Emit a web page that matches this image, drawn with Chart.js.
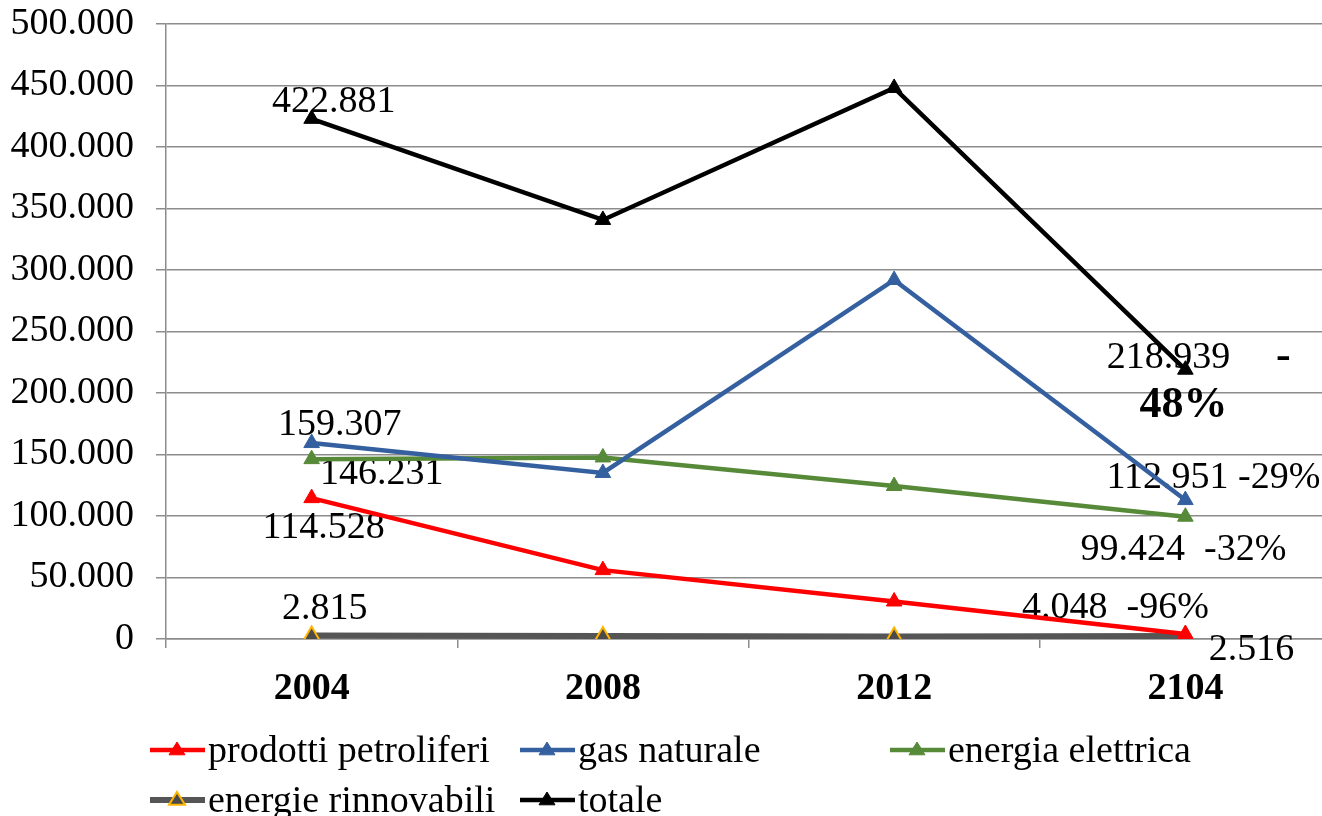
<!DOCTYPE html>
<html>
<head>
<meta charset="utf-8">
<script src="https://cdn.jsdelivr.net/npm/chart.js@4"></script>
<style>
    html, body { margin: 0; padding: 0; background: #fff; overflow: hidden; }
    .consumiChart { position: absolute; left: 0; top: 0; width: 1331px; height: 816px; }
</style>
</head>
<body>
<canvas class="consumiChart" width="1331" height="816"></canvas>
<script>
const anni = ['2004', '2008', '2012', '2104'];
const petroliferi = [114528, 56000, 30500, 4048];
const gasNaturale = [159307, 135000, 291900, 112951];
const energiaElettrica = [146231, 147600, 124400, 99424];
const rinnovabili = [2815, 2400, 2000, 2516];
const totale = [422881, 340700, 448000, 218939];

// etichette dei valori (solo primo e ultimo anno)
const etichettePetroliferi = ['114.528', '', '', '4.048  -96%'];
const etichetteGas = ['159.307', '', '', '112.951 -29%'];
const etichetteElettrica = ['146.231', '', '', '99.424  -32%'];
const etichetteRinnovabili = ['2.815', '', '', '2.516'];
const etichetteTotale = ['422.881', '', '', '218.939'];
const notaTotale = ['-', '48%'];

const yTicks = { min: 0, max: 500000, step: 50000 };
const FONT = '"Liberation Serif", "Times New Roman", serif';
const consumiChartDOM = document.querySelector('.consumiChart');

const formatIt = (v) => String(v).replace(/\B(?=(\d{3})+(?!\d))/g, '.');

// posizione delle etichette rispetto al punto [dx, dy] per indice
const spostamenti = [
    [[12, 30], null, null, [-70, -26]],
    [[28, -18], null, null, [28, -22]],
    [[70, 15], null, null, [-2, 33]],
    [[13, -27], null, null, [66, 14]],
    [[22, -17], null, null, [-17, -12]]
];

const buildDataset = (label, data, color, extra) => Object.assign({
    label: label,
    data: data,
    borderColor: color,
    backgroundColor: color,
    pointBackgroundColor: color,
    pointBorderColor: color,
    pointBorderWidth: 1,
    borderWidth: 4.5,
    pointStyle: 'triangle',
    pointRadius: 9,
    pointHoverRadius: 9,
    tension: 0
}, extra || {});

const datasets = [
    buildDataset('prodotti petroliferi', petroliferi, '#ff0000'),
    buildDataset('gas naturale', gasNaturale, '#35609f'),
    buildDataset('energia elettrica', energiaElettrica, '#578a38'),
    buildDataset('energie rinnovabili', rinnovabili, '#555555', {
        borderWidth: 6, pointBackgroundColor: '#4a4a4a', pointBorderColor: '#ffb400', pointBorderWidth: 2
    }),
    buildDataset('totale', totale, '#000000')
];
const etichette = [etichettePetroliferi, etichetteGas, etichetteElettrica, etichetteRinnovabili, etichetteTotale];

const noPadding = (scale) => {
    scale.paddingTop = 0;
    scale.paddingBottom = 0;
    scale.paddingLeft = 0;
    scale.paddingRight = 0;
};

const etichettePlugin = {
    id: 'etichette',
    beforeDatasetsDraw(chart) {
        const ctx = chart.ctx;
        ctx.save();
        ctx.fillStyle = '#000';
        ctx.textAlign = 'center';
        ctx.textBaseline = 'middle';
        ctx.font = '38px ' + FONT;
        chart.data.datasets.forEach((ds, i) => {
            const meta = chart.getDatasetMeta(i);
            etichette[i].forEach((testo, j) => {
                if (!testo) return;
                const p = meta.data[j];
                const [dx, dy] = spostamenti[i][j];
                ctx.fillText(testo, p.x + dx, p.y + dy);
            });
        });
        // nota sulla variazione del totale
        const pt = chart.getDatasetMeta(4).data[3];
        ctx.font = 'bold 44px ' + FONT;
        ctx.fillText(notaTotale[0], pt.x + 98, pt.y - 12);
        ctx.fillText(notaTotale[1], pt.x - 2, pt.y + 36);
        ctx.restore();
    }
};

const legendaPlugin = {
    id: 'legenda',
    afterDraw(chart) {
        const ctx = chart.ctx;
        const colonne = [150, 520, 890];
        const righe = [750, 800];
        ctx.save();
        ctx.font = '38px ' + FONT;
        ctx.textBaseline = 'middle';
        ctx.textAlign = 'left';
        chart.data.datasets.forEach((ds, i) => {
            const x = colonne[i % 3];
            const y = righe[Math.floor(i / 3)];
            ctx.strokeStyle = ds.borderColor;
            ctx.lineWidth = ds.borderWidth;
            ctx.beginPath();
            ctx.moveTo(x, y);
            ctx.lineTo(x + 55, y);
            ctx.stroke();
            const cx = x + 27, r = 8;
            ctx.beginPath();
            ctx.moveTo(cx, y - r);
            ctx.lineTo(cx + r, y + r * 0.6);
            ctx.lineTo(cx - r, y + r * 0.6);
            ctx.closePath();
            ctx.fillStyle = ds.pointBackgroundColor;
            ctx.fill();
            ctx.lineWidth = ds.pointBorderWidth;
            ctx.strokeStyle = ds.pointBorderColor;
            ctx.stroke();
            ctx.fillStyle = '#000';
            ctx.fillText(ds.label, x + 58, y + 2);
        });
        ctx.restore();
    }
};

const config = {
    type: 'line',
    data: { labels: anni, datasets: datasets },
    options: {
        responsive: false,
        animation: false,
        layout: { autoPadding: false, padding: { top: 24, right: 0, left: 0, bottom: 0 } },
        plugins: {
            legend: { display: false },
            tooltip: { enabled: false }
        },
        scales: {
            x: {
                offset: true,
                afterFit: (scale) => { scale.height = 177; noPadding(scale); },
                grid: {
                    offset: true,
                    drawOnChartArea: false,
                    drawTicks: true,
                    tickLength: 9,
                    color: '#8c8c8c',
                    lineWidth: 1.5
                },
                border: { color: '#8c8c8c', width: 1.5 },
                ticks: {
                    color: '#000',
                    padding: 18,
                    font: { family: FONT, size: 38, weight: 'bold' }
                }
            },
            y: {
                min: yTicks.min,
                max: yTicks.max,
                afterFit: (scale) => { scale.width = 166; noPadding(scale); },
                grid: {
                    color: '#8c8c8c',
                    lineWidth: 1.5,
                    tickLength: 10
                },
                border: { color: '#8c8c8c', width: 1.5 },
                ticks: {
                    stepSize: yTicks.step,
                    color: '#000',
                    padding: 22,
                    font: { family: FONT, size: 38 },
                    callback: (value) => formatIt(value)
                }
            }
        }
    },
    plugins: [etichettePlugin, legendaPlugin]
};

new Chart(consumiChartDOM, config);
</script>
</body>
</html>
